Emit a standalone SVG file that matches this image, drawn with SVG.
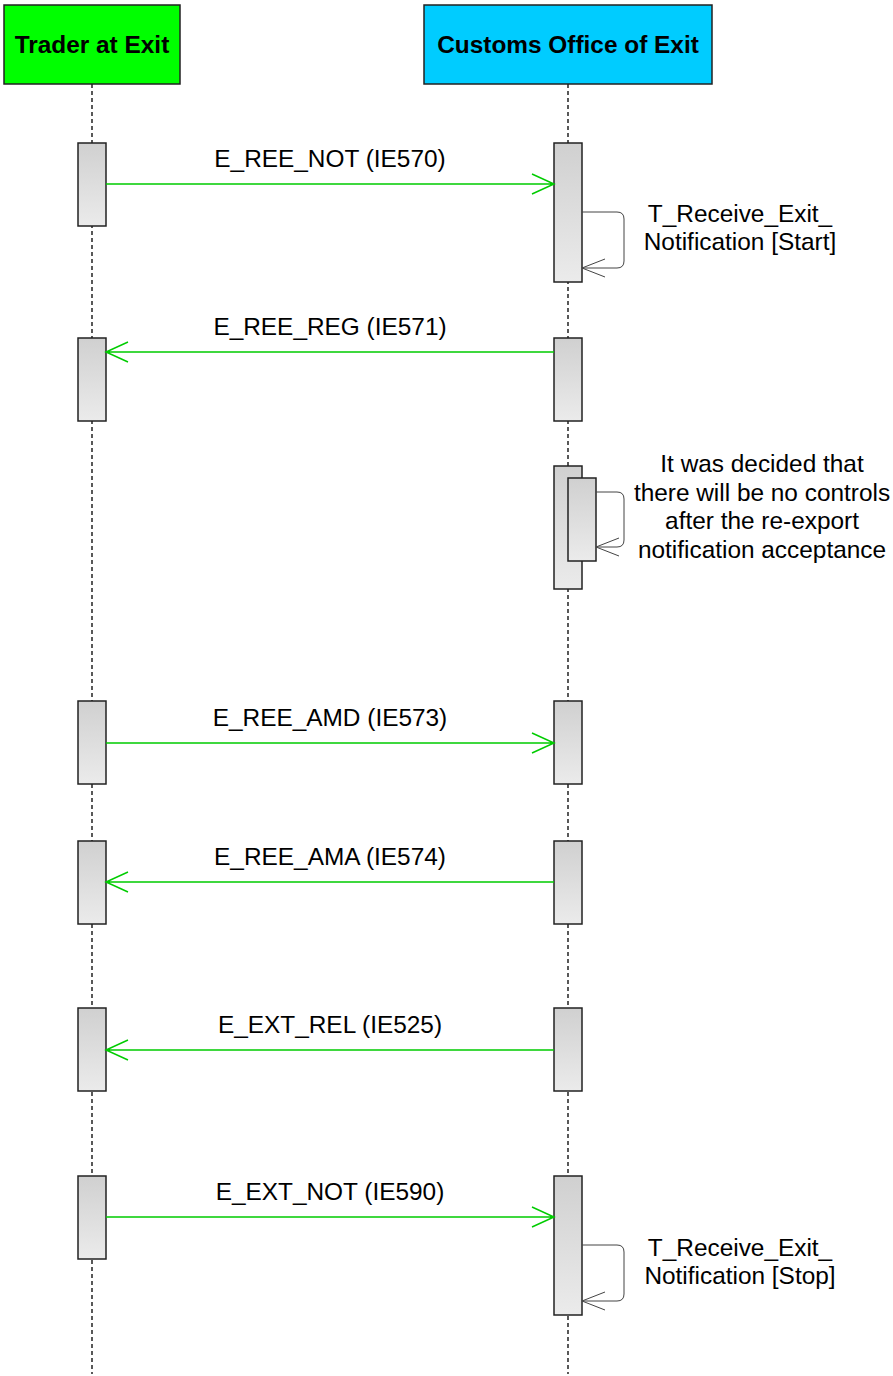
<svg xmlns="http://www.w3.org/2000/svg" width="893" height="1376" viewBox="0 0 893 1376">
<defs>
<linearGradient id="g" x1="0" y1="0" x2="0" y2="1"><stop offset="0" stop-color="#d0d0d0"/><stop offset="1" stop-color="#ebebeb"/></linearGradient>
<style>
.hdr{stroke:#222;stroke-width:1.5}
.ht{font-family:"Liberation Sans",Arial,sans-serif;font-weight:bold;font-size:24.4px;text-anchor:middle;fill:#000}
.t{font-family:"Liberation Sans",Arial,sans-serif;font-size:24.4px;text-anchor:middle;fill:#000}
.life{stroke:#000;stroke-width:1.3;stroke-dasharray:4 3;fill:none}
.bar{fill:url(#g);stroke:#222;stroke-width:1.5}
.msg{stroke:#00cc00;stroke-width:1.5;fill:none}
.self{stroke:#444;stroke-width:1;fill:none}
</style>
</defs>
<g id="lifelines">
<line class="life" x1="92" y1="84" x2="92" y2="1374"/>
<line class="life" x1="568" y1="84" x2="568" y2="1374"/>
</g>
<g id="trader">
<rect class="hdr" x="4" y="5" width="176" height="79" fill="#00ff00"/>
<text class="ht" x="92" y="53">Trader at Exit</text>
</g>
<g id="customs">
<rect class="hdr" x="424" y="5" width="288" height="79" fill="#00ccff"/>
<text class="ht" x="568" y="53">Customs Office of Exit</text>
</g>
<g id="activations">
<rect class="bar" x="78" y="143" width="28" height="83"/>
<rect class="bar" x="554" y="143" width="28" height="139"/>
<rect class="bar" x="78" y="338" width="28" height="83"/>
<rect class="bar" x="554" y="338" width="28" height="83"/>
<rect class="bar" x="554" y="466" width="28" height="123"/>
<rect class="bar" x="568" y="478" width="28" height="83"/>
<rect class="bar" x="78" y="701" width="28" height="83"/>
<rect class="bar" x="554" y="701" width="28" height="83"/>
<rect class="bar" x="78" y="841" width="28" height="83"/>
<rect class="bar" x="554" y="841" width="28" height="83"/>
<rect class="bar" x="78" y="1008" width="28" height="83"/>
<rect class="bar" x="554" y="1008" width="28" height="83"/>
<rect class="bar" x="78" y="1176" width="28" height="83"/>
<rect class="bar" x="554" y="1176" width="28" height="139"/>
</g>
<g id="connectors">
<path class="msg" d="M106 184H554M532 174L554 184L532 194"/>
<path class="msg" d="M554 352H106M128 342L106 352L128 362"/>
<path class="msg" d="M106 743H554M532 733L554 743L532 753"/>
<path class="msg" d="M554 882H106M128 872L106 882L128 892"/>
<path class="msg" d="M554 1050H106M128 1040L106 1050L128 1060"/>
<path class="msg" d="M106 1217H554M532 1207L554 1217L532 1227"/>
<path class="self" d="M582 212H617Q624 212 624 219V261Q624 268 617 268H582M605 259L582 268L605 277"/>
<path class="self" d="M596 492H617Q624 492 624 499V540Q624 547 617 547H596M619 538L596 547L619 556"/>
<path class="self" d="M582 1245H617Q624 1245 624 1252V1294Q624 1301 617 1301H582M605 1292L582 1301L605 1310"/>
</g>
<g id="labels">
<text class="t" x="330" y="166.5">E_REE_NOT (IE570)</text>
<text class="t" x="330" y="334.5">E_REE_REG (IE571)</text>
<text class="t" x="330" y="725.5">E_REE_AMD (IE573)</text>
<text class="t" x="330" y="864.5">E_REE_AMA (IE574)</text>
<text class="t" x="330" y="1032.5">E_EXT_REL (IE525)</text>
<text class="t" x="330" y="1199.5">E_EXT_NOT (IE590)</text>
<text class="t" x="740" y="221.5">T_Receive_Exit_</text>
<text class="t" x="740" y="249.5">Notification [Start]</text>
<text class="t" x="762" y="472">It was decided that</text>
<text class="t" x="762" y="501">there will be no controls</text>
<text class="t" x="762" y="529">after the re-export</text>
<text class="t" x="762" y="558">notification acceptance</text>
<text class="t" x="740" y="1255.5">T_Receive_Exit_</text>
<text class="t" x="740" y="1283.5">Notification [Stop]</text>
</g>
</svg>
